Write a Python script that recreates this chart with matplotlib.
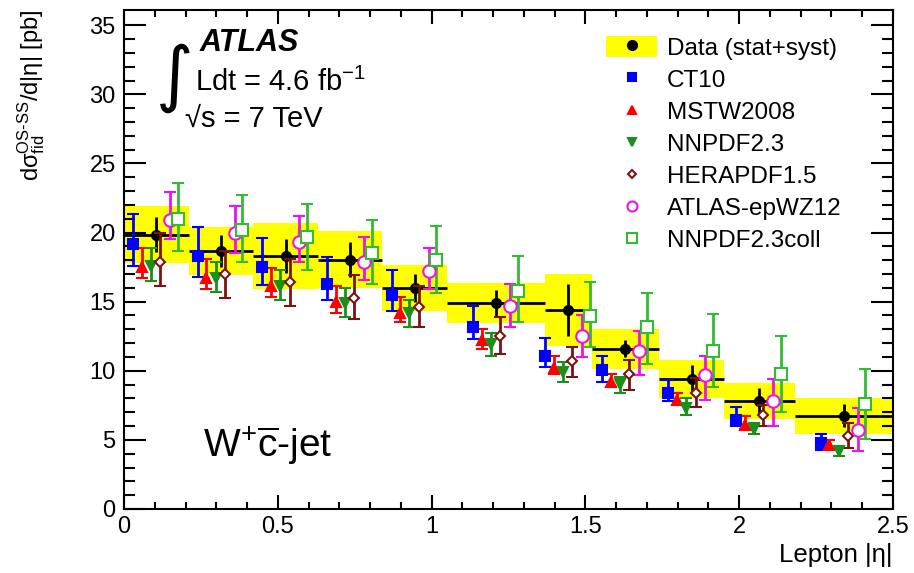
import numpy as np
import matplotlib
matplotlib.use('Agg')
import matplotlib.pyplot as plt
from matplotlib.patches import Patch
from matplotlib.lines import Line2D

plt.rcParams['font.family'] = ['Liberation Sans', 'DejaVu Sans']
plt.rcParams['mathtext.fontset'] = 'custom'
plt.rcParams['mathtext.rm'] = 'Liberation Sans'
plt.rcParams['mathtext.it'] = 'Liberation Sans:italic'
plt.rcParams['mathtext.bf'] = 'Liberation Sans:bold'

# bin edges in lepton |eta|
edges = [0, 0.21, 0.42, 0.63, 0.84, 1.05, 1.37, 1.52, 1.74, 1.95, 2.18, 2.5]

# data
data_val = [19.85, 18.65, 18.3, 18.05, 16.0, 14.9, 14.4, 11.6, 9.4, 7.8, 6.75]
data_stat = [1.25, 1.15, 1.2, 1.25, 1.0, 0.95, 1.9, 0.6, 1.05, 0.95, 0.85]
data_tot = [2.05, 1.75, 2.4, 2.05, 1.65, 1.45, 2.6, 1.45, 1.4, 1.3, 1.3]

# predictions: central value, upper end, lower end of error bar
ct10_val = [19.2, 18.3, 17.5, 16.3, 15.5, 13.15, 11.1, 10.05, 8.4, 6.45, 4.75]
ct10_top = [21.35, 20.4, 19.6, 18.2, 17.3, 14.7, 12.4, 11.1, 9.3, 7.35, 5.4]
ct10_bot = [17.6, 16.8, 16.2, 15.1, 14.35, 12.3, 10.3, 9.2, 7.8, 6.0, 4.3]

mstw_val = [17.5, 16.7, 16.1, 14.95, 14.2, 12.2, 10.2, 9.2, 7.9, 6.1, 4.6]
mstw_top = [18.9, 18.1, 17.4, 16.1, 15.35, 13.0, 11.1, 9.75, 8.4, 6.7, 5.0]
mstw_bot = [16.7, 15.9, 15.35, 14.2, 13.5, 11.6, 9.8, 8.85, 7.5, 5.8, 4.35]

nnpdf_val = [17.6, 16.7, 16.1, 14.9, 14.15, 11.95, 9.9, 9.05, 7.3, 5.8, 4.2]
nnpdf_top = [18.9, 17.9, 17.3, 16.0, 15.1, 12.7, 10.65, 9.55, 8.0, 6.2, 4.55]
nnpdf_bot = [16.5, 15.7, 15.1, 13.9, 13.2, 11.1, 9.2, 8.4, 6.8, 5.4, 3.8]

hera_val = [17.9, 17.0, 16.4, 15.3, 14.6, 12.55, 10.7, 9.75, 8.4, 6.8, 5.3]
hera_top = [20.0, 18.7, 18.1, 16.9, 16.1, 13.9, 11.7, 10.75, 9.5, 7.5, 6.2]
hera_bot = [16.1, 15.3, 14.7, 13.75, 13.15, 11.2, 9.55, 8.6, 7.4, 6.0, 4.4]

epwz_val = [20.9, 20.0, 19.3, 17.9, 17.2, 14.7, 12.55, 11.4, 9.7, 7.8, 5.75]
epwz_top = [22.9, 21.95, 21.2, 19.65, 18.9, 16.3, 14.0, 12.9, 11.1, 9.4, 7.3]
epwz_bot = [19.5, 18.5, 17.9, 16.55, 15.9, 13.2, 11.0, 9.7, 7.9, 6.0, 4.2]

coll_val = [21.0, 20.2, 19.65, 18.5, 18.0, 15.8, 13.95, 13.15, 11.4, 9.75, 7.6]
coll_top = [23.6, 22.7, 22.1, 20.9, 20.45, 18.3, 16.4, 15.65, 14.1, 12.55, 10.1]
coll_bot = [18.7, 17.9, 17.3, 16.3, 15.65, 13.5, 11.7, 10.5, 8.8, 7.0, 5.1]

edges_a = np.array(edges)
centers = (edges_a[:-1] + edges_a[1:]) / 2
halfw = (edges_a[1:] - edges_a[:-1]) / 2

fig = plt.figure(figsize=(9.14, 5.73), dpi=100)
ax = fig.add_axes([0.1357, 0.1117, 0.977 - 0.1357, 0.9825 - 0.1117])

# yellow total uncertainty boxes
dv = np.array(data_val)
dt = np.array(data_tot)
ax.bar(edges_a[:-1], 2 * dt, bottom=dv - dt, width=2 * halfw, align='edge',
       color='#ffff00', edgecolor='none', zorder=1)

# data
ax.errorbar(centers, dv, xerr=halfw, yerr=data_stat, fmt='o', color='black',
            ms=7, elinewidth=2, capsize=0, zorder=3)

preds = [
    (ct10_val, ct10_top, ct10_bot, -0.075, 's', '#0000ff', True, 6.5, 'CT10'),
    (mstw_val, mstw_top, mstw_bot, -0.047, '^', '#ff0000', True, 7, 'MSTW2008'),
    (nnpdf_val, nnpdf_top, nnpdf_bot, -0.017, 'v', '#1a8f1a', True, 7, 'NNPDF2.3'),
    (hera_val, hera_top, hera_bot, 0.013, 'D', '#7a1414', False, 5, 'HERAPDF1.5'),
    (epwz_val, epwz_top, epwz_bot, 0.045, 'o', '#ee11ee', False, 9, 'ATLAS-epWZ12'),
    (coll_val, coll_top, coll_bot, 0.07, 's', '#33bb33', False, 9, 'NNPDF2.3coll'),
]

handles = [(Patch(facecolor='#ffff00', edgecolor='none'),
            Line2D([], [], marker='o', color='black', ls='none', ms=7))]
labels = ['Data (stat+syst)']
for val, top, bot, off, mk, col, filled, ms, lab in preds:
    v = np.array(val)
    lo = v - np.array(bot)
    hi = np.array(top) - v
    ax.errorbar(centers + off, v, yerr=[lo, hi], fmt=mk, color=col, ms=ms,
                mfc=col if filled else 'white', mec=col, mew=1.5,
                elinewidth=2, capsize=4.5, capthick=2, zorder=4)
    handles.append(Line2D([], [], marker=mk, color=col, ls='none',
                          ms=ms * 0.8, mfc=col if filled else 'white', mew=1.5))
    labels.append(lab)

ax.set_xlim(0, 2.5)
ax.set_ylim(0, 36.1)
ax.set_xticks([0, 0.5, 1, 1.5, 2, 2.5])
ax.set_xticklabels(['0', '0.5', '1', '1.5', '2', '2.5'])
ax.set_xticks(np.arange(0, 2.51, 0.1), minor=True)
ax.set_yticks([0, 5, 10, 15, 20, 25, 30, 35])
ax.set_yticks(np.arange(0, 36, 1), minor=True)
ax.tick_params(which='both', direction='in', top=True, right=True, labelsize=17, width=1.5)
ax.tick_params(axis='x', which='major', length=10, pad=5)
ax.tick_params(axis='x', which='minor', length=5)
ax.tick_params(axis='y', which='major', length=16, pad=6)
ax.tick_params(axis='y', which='minor', length=8)
for s in ax.spines.values():
    s.set_linewidth(1.5)

ax.set_xlabel('Lepton |\u03b7|', fontsize=18.5, loc='right', labelpad=4)
ax.set_ylabel('d\u03c3$^{\\mathrm{OS\u2010SS}}_{\\mathrm{fid}}$/d|\u03b7| [pb]',
              fontsize=17, loc='top')
ax.yaxis.set_label_coords(-0.1, 1.0)

ax.text(0.247, 33.7, 'ATLAS', fontsize=22, fontweight='bold', style='italic', va='center')
ax.text(0.105, 31.2, '\u222b', fontsize=52, va='center', family='DejaVu Sans')
ax.text(0.231, 30.9, r'Ldt = 4.6 fb$^{-1}$', fontsize=21, va='center')
ax.text(0.198, 28.2, '\u221as = 7 TeV', fontsize=21, va='center')
ax.text(0.257, 4.6, r'W$^{+}\overline{\mathrm{c}}$-jet', fontsize=28, va='center')

ax.legend(handles, labels, loc='upper left', bbox_to_anchor=(0.627, 0.948),
          frameon=False, fontsize=17.5, handlelength=2.1, handleheight=0.95,
          handletextpad=0.4, labelspacing=0.34, borderpad=0, borderaxespad=0)

fig.savefig('out.png', dpi=100)
